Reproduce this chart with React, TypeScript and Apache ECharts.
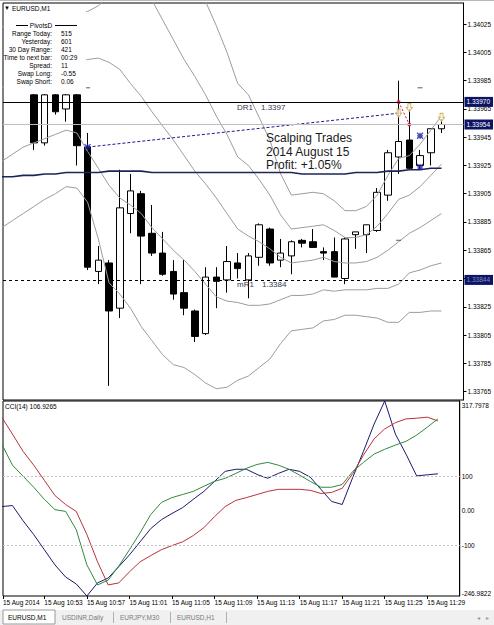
import React, { useEffect, useRef } from "react";
import * as echarts from "echarts";

const FONT = "'Liberation Sans', Arial, sans-serif";
const X_MIN = -2.887;
const X_MAX = 40.05;
const FIRST_IND = -3;
const P_MIN = 1.33759;
const P_MAX = 1.3404;
const CCI_MAX = 317.7978;
const CCI_MIN = -246.9822;

// candles from 10:52 (index 0) to 11:30: [open, close, low, high]
const candles = [
  [1.33975, 1.33941, 1.33936, 1.33978],
  [1.33941, 1.33975, 1.33939, 1.33978],
  [1.33975, 1.33963, 1.33961, 1.33978],
  [1.33965, 1.33975, 1.33956, 1.33978],
  [1.33975, 1.33939, 1.33925, 1.33978],
  [1.33938, 1.33853, 1.33851, 1.33948],
  [1.3385, 1.33858, 1.33841, 1.33868],
  [1.33856, 1.33822, 1.33769, 1.33858],
  [1.33824, 1.33895, 1.33817, 1.33922],
  [1.33891, 1.33907, 1.33877, 1.33919],
  [1.33905, 1.33875, 1.33841, 1.33907],
  [1.33877, 1.33863, 1.33861, 1.33897],
  [1.33863, 1.33848, 1.33847, 1.33878],
  [1.3385, 1.33834, 1.3383, 1.33858],
  [1.33835, 1.33824, 1.33819, 1.33858],
  [1.33822, 1.33804, 1.338, 1.33823],
  [1.33806, 1.33846, 1.33805, 1.33853],
  [1.33846, 1.33843, 1.33824, 1.33853],
  [1.33844, 1.33857, 1.33835, 1.33868],
  [1.33856, 1.33852, 1.33845, 1.33863],
  [1.33844, 1.33861, 1.33831, 1.33863],
  [1.3386, 1.33883, 1.33854, 1.33884],
  [1.3388, 1.33856, 1.33854, 1.33881],
  [1.33858, 1.33863, 1.33853, 1.33873],
  [1.33861, 1.33871, 1.33848, 1.33872],
  [1.33872, 1.3387, 1.33867, 1.33873],
  [1.33871, 1.33867, 1.33867, 1.3388],
  [1.33864, 1.33863, 1.33858, 1.33867],
  [1.33864, 1.33846, 1.33846, 1.33874],
  [1.33845, 1.33873, 1.33841, 1.33874],
  [1.33876, 1.33878, 1.33866, 1.33878],
  [1.33876, 1.33883, 1.33863, 1.33883],
  [1.33879, 1.33906, 1.33878, 1.33909],
  [1.33904, 1.33934, 1.339, 1.33936],
  [1.33931, 1.33942, 1.33919, 1.33985],
  [1.33943, 1.33923, 1.33922, 1.33965],
  [1.33925, 1.33932, 1.33922, 1.33936],
  [1.33934, 1.33951, 1.33925, 1.33951],
  [1.33951, 1.33954, 1.33948, 1.33958],
];

// band lines (outer upper, inner upper, middle, inner lower, outer lower), index -3 (10:49) .. 38 (11:30)
const bandU2 = [1.3407, 1.34074, 1.34077, 1.34077, 1.34077, 1.34077, 1.34077, 1.34079, 1.34081, 1.34088, 1.34099, 1.34106, 1.34109, 1.34106, 1.34099, 1.34088, 1.34077, 1.34067, 1.34055, 1.34041, 1.34024, 1.34005, 1.33983, 1.33975, 1.33959, 1.33943, 1.33919, 1.33904, 1.33905, 1.33906, 1.33905, 1.339, 1.33893, 1.33893, 1.33896, 1.33904, 1.33918, 1.3393, 1.33932, 1.3394, 1.3395, 1.3396];
const bandU1 = [1.34023, 1.34025, 1.34028, 1.34032, 1.34032, 1.34033, 1.34033, 1.34033, 1.34034, 1.34038, 1.34045, 1.34051, 1.34053, 1.34051, 1.34042, 1.34028, 1.34014, 1.34, 1.33988, 1.33975, 1.3396, 1.33947, 1.33931, 1.33925, 1.33915, 1.33904, 1.3389, 1.3388, 1.33881, 1.33882, 1.33883, 1.33879, 1.33874, 1.33874, 1.33876, 1.33882, 1.33891, 1.33901, 1.33904, 1.3391, 1.33918, 1.33926];
const bandMid = [1.3398, 1.33983, 1.33986, 1.33988, 1.33991, 1.33994, 1.33997, 1.33998, 1.34, 1.34001, 1.33998, 1.33993, 1.33983, 1.33974, 1.33963, 1.33953, 1.33943, 1.33932, 1.33921, 1.33912, 1.33902, 1.33891, 1.3388, 1.33875, 1.33871, 1.33866, 1.3386, 1.33856, 1.33857, 1.33858, 1.3386, 1.33857, 1.33856, 1.33856, 1.33857, 1.3386, 1.33865, 1.33871, 1.33877, 1.33881, 1.33886, 1.33891];
const bandL1 = [1.33928, 1.33933, 1.33938, 1.33941, 1.33944, 1.33947, 1.3395, 1.33948, 1.33935, 1.33923, 1.33911, 1.33902, 1.33897, 1.33891, 1.33881, 1.33873, 1.33865, 1.33858, 1.3385, 1.33841, 1.33832, 1.33829, 1.33828, 1.33826, 1.33826, 1.33827, 1.3383, 1.33833, 1.33833, 1.33834, 1.33837, 1.33836, 1.33837, 1.33837, 1.33837, 1.33838, 1.33838, 1.33841, 1.33849, 1.33851, 1.33854, 1.33856];
const bandL2 = [1.33881, 1.33886, 1.33891, 1.33896, 1.33901, 1.33905, 1.3391, 1.33909, 1.33899, 1.33873, 1.33842, 1.33834, 1.33824, 1.33811, 1.33801, 1.33791, 1.33784, 1.33782, 1.33777, 1.33771, 1.33767, 1.33768, 1.33773, 1.33776, 1.33782, 1.33788, 1.33799, 1.33808, 1.33809, 1.3381, 1.33815, 1.33816, 1.33819, 1.33819, 1.33818, 1.33817, 1.33814, 1.33814, 1.33821, 1.33821, 1.33822, 1.33822];
const maLine = [1.33917, 1.33917, 1.33918, 1.33918, 1.33919, 1.33919, 1.3392, 1.3392, 1.3392, 1.3392, 1.33921, 1.33921, 1.33921, 1.33921, 1.3392, 1.3392, 1.3392, 1.3392, 1.3392, 1.3392, 1.3392, 1.3392, 1.3392, 1.3392, 1.3392, 1.3392, 1.3392, 1.3392, 1.33919, 1.33919, 1.33919, 1.33919, 1.33919, 1.3392, 1.3392, 1.3392, 1.33921, 1.33921, 1.33922, 1.33922, 1.33923, 1.33923];

const cciNavy = [12, 15, -29, -69, -113, -157, -192, -212, -246.9822, -209, -195, -162, -128, -90, -52, -26, -8, 9, 33, 56, 85, 114, 120, 120, 105, 94, 108, 120, 114, 97, 62, 27, 18, 97, 172, 251, 317.7978, 222, 164, 101, 104, 106.9265];
const cciRed = [271, 222, 172, 132, 88, 44, 18, -2, -69, -148, -215, -209, -177, -148, -130, -113, -101, -90, -72, -49, -17, 12, 30, 38, 47, 56, 62, 62, 62, 59, 50, 53, 65, 108, 161, 208, 237, 255, 266, 268, 271, 260];
const cciGreen = [193, 132, 100, 68, 33, 3, -2, -55, -157, -215, -201, -160, -113, -64, -11, 24, 38, 47, 56, 71, 85, 94, 108, 123, 134, 140, 132, 120, 103, 85, 68, 68, 76, 114, 140, 164, 178, 190, 201, 219, 242, 266];

const priceTicks = [1.34025, 1.34005, 1.33985, 1.33965, 1.33945, 1.33925, 1.33905, 1.33885, 1.33865, 1.33845, 1.33825, 1.33805, 1.33785, 1.33765];
const cciTicks = [100, 0, -100];
const cciTickLabels = ["100", "0.00", "-100"];
const xTickIdx = [1, 5, 9, 13, 17, 21, 25, 29, 33, 37];
const xTickLabels = ["15 Aug 10:53", "15 Aug 10:57", "15 Aug 11:01", "15 Aug 11:05", "15 Aug 11:09", "15 Aug 11:13", "15 Aug 11:17", "15 Aug 11:21", "15 Aug 11:25", "15 Aug 11:29"];
const dateLabel = "15 Aug 2014";

const dr1Level = 1.3397;
const bidLevel = 1.33954;
const mr1Level = 1.33844;
const tradeLine = [[5, 1.33938], [34, 1.33962]];
const tradeLine2 = [[34, 1.3397], [35, 1.33954]];
const crossMarks = [[5, 1.33938]];
const starMarks = [[36, 1.33946], [36, 1.33924]];
const redDots = [[34, 1.3397], [35, 1.33954]];
const tanArrows = [[34, 1.33962], [35, 1.33966], [38, 1.33959]];
const grayDashes = [[5, 1.3398], [36, 1.3398], [34, 1.33872]];

const infoLabels = ["Range Today:", "Yesterday:", "30 Day Range:", "Time to next bar:", "Spread:", "Swap Long:", "Swap Short:"];
const infoValues = ["515", "601", "421", "00:29", "11", "-0.55", "0.06"];

const toSeries = (arr: number[]) => arr.map((v, k) => [k + FIRST_IND, v]);

function txt(text: string, x: number, y: number, extra: any = {}) {
  return {
    type: "text",
    x,
    y,
    z: 100,
    silent: true,
    style: {
      text,
      fill: "#000",
      fontSize: 6.5,
      fontFamily: FONT,
      align: "left",
      verticalAlign: "middle",
      ...extra,
    },
  };
}

export default function App() {
  const ref = useRef<HTMLDivElement>(null);
  useEffect(() => {
    document.body.style.margin = "0";
    const chart = echarts.init(ref.current!, null, { renderer: "svg" });
    const axisFont = { fontSize: 6.5, fontFamily: FONT, color: "#000" };
    const lineS = (data: any, color: string, width = 1, extra: any = {}) => ({
      type: "line",
      xAxisIndex: 0,
      yAxisIndex: 0,
      data,
      showSymbol: false,
      symbol: "none",
      silent: true,
      z: 3,
      lineStyle: { color, width },
      ...extra,
    });
    const mkLabel = (text: string, color = "#fff") => ({
      show: true,
      position: "end",
      distance: 1,
      formatter: text,
      backgroundColor: "#0c1464",
      color,
      fontSize: 6.5,
      fontFamily: FONT,
      padding: [2, 3, 1, 2],
    });
    const option: any = {
      animation: false,
      backgroundColor: "#fff",
      grid: [
        { left: 3, top: 3, width: 461, height: 397, show: true, borderColor: "#000", borderWidth: 1, backgroundColor: "transparent" },
        { left: 3, top: 401, width: 461, height: 195, show: true, borderColor: "#000", borderWidth: 1, backgroundColor: "transparent" },
      ],
      xAxis: [
        { type: "value", gridIndex: 0, min: X_MIN, max: X_MAX, show: false },
        {
          type: "value",
          gridIndex: 1,
          min: X_MIN,
          max: X_MAX,
          axisLine: { show: false, onZero: false },
          splitLine: { show: false },
          axisTick: { show: true, customValues: [X_MIN, ...xTickIdx], length: 3, lineStyle: { color: "#000" } },
          axisLabel: {
            customValues: [X_MIN, ...xTickIdx],
            ...axisFont,
            align: "left",
            margin: 3,
            formatter: (v: number) => {
              if (v < 0) return dateLabel;
              const k = xTickIdx.indexOf(Math.round(v));
              return k >= 0 ? xTickLabels[k] : "";
            },
          },
        },
      ],
      yAxis: [
        {
          type: "value",
          gridIndex: 0,
          position: "right",
          min: P_MIN,
          max: P_MAX,
          splitLine: { show: false },
          axisLine: { show: true, onZero: false, lineStyle: { color: "#000" } },
          axisTick: { show: true, customValues: priceTicks, length: 3, lineStyle: { color: "#000" } },
          axisLabel: { customValues: priceTicks, ...axisFont, margin: 4, formatter: (v: number) => v.toFixed(5) },
        },
        {
          type: "value",
          gridIndex: 1,
          position: "right",
          min: CCI_MIN,
          max: CCI_MAX,
          splitLine: { show: false },
          axisLine: { show: true, onZero: false, lineStyle: { color: "#000" } },
          axisTick: { show: false },
          axisLabel: {
            customValues: [CCI_MAX, ...cciTicks, CCI_MIN],
            ...axisFont,
            margin: 2,
            formatter: (v: number) => {
              if (Math.abs(v - CCI_MAX) < 1e-6) return "{t|" + CCI_MAX.toFixed(4) + "}";
              if (Math.abs(v - CCI_MIN) < 1e-6) return "{b|" + CCI_MIN.toFixed(4) + "}";
              const k = cciTicks.indexOf(Math.round(v));
              return k >= 0 ? cciTickLabels[k] : "";
            },
            rich: {
              t: { ...axisFont, padding: [9, 0, 0, 0] },
              b: { ...axisFont, padding: [0, 0, 5, 0] },
            },
          },
        },
      ],
      series: [
        {
          type: "candlestick",
          xAxisIndex: 0,
          yAxisIndex: 0,
          z: 1,
          silent: true,
          barWidth: 7,
          data: candles.map((c, i) => [i, ...c]),
          encode: { x: 0, y: [1, 2, 3, 4] },
          itemStyle: { color: "#fff", color0: "#000", borderColor: "#000", borderColor0: "#000", borderWidth: 1 },
        },
        lineS(toSeries(bandU2), "#9c9c9c"),
        lineS(toSeries(bandU1), "#9c9c9c"),
        lineS(toSeries(bandMid), "#9c9c9c"),
        lineS(toSeries(bandL1), "#9c9c9c"),
        lineS(toSeries(bandL2), "#9c9c9c"),
        lineS(toSeries(maLine), "#1c2458", 1.6, {
          markLine: {
            silent: true,
            symbol: "none",
            precision: 6,
            data: [
              { yAxis: dr1Level, lineStyle: { color: "#000", type: "solid", width: 1 }, label: mkLabel("1.33970") },
              { yAxis: bidLevel, lineStyle: { color: "#bdbdbd", type: "solid", width: 1 }, label: mkLabel("1.33954") },
              { yAxis: mr1Level, lineStyle: { color: "#000", type: [3, 3], width: 1 }, label: mkLabel("1.33844", "#7f8fc8") },
            ],
          },
        }),
        lineS(tradeLine, "#1a1a90", 1, { lineStyle: { color: "#1a1a90", width: 1, type: [3, 2] } }),
        lineS(tradeLine2, "#d01030", 1, { lineStyle: { color: "#d01030", width: 1, type: [2, 2] } }),
        {
          type: "scatter",
          xAxisIndex: 0,
          yAxisIndex: 0,
          z: 4,
          silent: true,
          data: crossMarks,
          symbol: "path://M0,0L1,1M1,0L0,1M0.5,0L0.5,1M0,0.5L1,0.5",
          symbolSize: 6,
          itemStyle: { color: "transparent", borderColor: "#1a1aa0", borderWidth: 1.3 },
        },
        {
          type: "scatter",
          xAxisIndex: 0,
          yAxisIndex: 0,
          z: 4,
          silent: true,
          data: starMarks,
          symbol: "path://M0,0L1,1M1,0L0,1M0.5,0L0.5,1M0,0.5L1,0.5",
          symbolSize: 6,
          itemStyle: { color: "transparent", borderColor: "#1a1aa0", borderWidth: 1.3 },
        },
        {
          type: "scatter",
          xAxisIndex: 0,
          yAxisIndex: 0,
          z: 4,
          silent: true,
          data: redDots,
          symbol: "circle",
          symbolSize: 4,
          itemStyle: { color: "#e0103a" },
        },
        {
          type: "scatter",
          xAxisIndex: 0,
          yAxisIndex: 0,
          z: 4,
          silent: true,
          data: tanArrows,
          symbol: "path://M2,0L6,0L6,5L8,5L4,10L0,5L2,5Z",
          symbolSize: [6, 8],
          itemStyle: { color: "#fffbe8", borderColor: "#c8a04a", borderWidth: 1 },
        },
        {
          type: "scatter",
          xAxisIndex: 0,
          yAxisIndex: 0,
          z: 4,
          silent: true,
          data: grayDashes,
          symbol: "rect",
          symbolSize: [5, 1.2],
          itemStyle: { color: "#555" },
        },
        {
          type: "line",
          xAxisIndex: 1,
          yAxisIndex: 1,
          data: toSeries(cciNavy),
          showSymbol: false,
          symbol: "none",
          silent: true,
          z: 3,
          lineStyle: { color: "#1a1a6e", width: 1 },
          markLine: {
            silent: true,
            symbol: "none",
            precision: 4,
            label: { show: false },
            lineStyle: { color: "#c4c4c4", type: [2, 2], width: 1 },
            data: [{ yAxis: 100 }, { yAxis: -100 }],
          },
        },
        {
          type: "line",
          xAxisIndex: 1,
          yAxisIndex: 1,
          data: toSeries(cciRed),
          showSymbol: false,
          symbol: "none",
          silent: true,
          z: 3,
          lineStyle: { color: "#b8323a", width: 1 },
        },
        {
          type: "line",
          xAxisIndex: 1,
          yAxisIndex: 1,
          data: toSeries(cciGreen),
          showSymbol: false,
          symbol: "none",
          silent: true,
          z: 3,
          lineStyle: { color: "#2f8a3a", width: 1 },
        },
      ],
      graphic: [
        { type: "rect", z: 90, silent: true, shape: { x: 4, y: 4, width: 82, height: 90 }, style: { fill: "#fff" } },
        { type: "line", z: 95, silent: true, shape: { x1: 0, y1: 0.5, x2: 494, y2: 0.5 }, style: { stroke: "#b8b8b8", lineWidth: 1 } },
        txt("\u25BC", 4, 8, { fontSize: 6 }),
        txt("EURUSD,M1", 12, 8),
        { type: "line", z: 100, silent: true, shape: { x1: 16, y1: 25.5, x2: 28, y2: 25.5 }, style: { stroke: "#000", lineWidth: 1 } },
        { type: "line", z: 100, silent: true, shape: { x1: 55, y1: 25.5, x2: 77, y2: 25.5 }, style: { stroke: "#000", lineWidth: 1 } },
        txt("PivotsD", 41, 25, { align: "center" }),
        ...infoLabels.map((l, k) => txt(l, 52, 33.3 + k * 8.05, { align: "right" })),
        ...infoValues.map((v, k) => txt(v, 61, 33.3 + k * 8.05)),
        txt("Scalping Trades", 266, 138, { fontSize: 12, fill: "#1a1a1a" }),
        txt("2014 August 15", 266, 151.5, { fontSize: 12, fill: "#1a1a1a" }),
        txt("Profit: +1.05%", 266, 165, { fontSize: 12, fill: "#1a1a1a" }),
        txt("DR1", 237, 107, { fontSize: 8, fill: "#383850" }),
        txt("1.3397", 261, 107, { fontSize: 8, fill: "#383850" }),
        txt("mR1", 237, 284, { fontSize: 8, fill: "#383850" }),
        txt("1.3384", 262, 284, { fontSize: 8, fill: "#383850" }),
        txt("CCI(14) 106.9265", 5, 406.5),
        { type: "rect", z: 90, silent: true, shape: { x: 0, y: 610, width: 494, height: 15 }, style: { fill: "#f0f0f0" } },
        { type: "rect", z: 95, silent: true, shape: { x: 3, y: 610, width: 52, height: 14 }, style: { fill: "#fff", stroke: "#9a9a9a", lineWidth: 1 } },
        txt("EURUSD,M1", 8, 617.5),
        txt("USDINR,Daily", 62, 617.5, { fill: "#7a7a7a" }),
        txt("EURJPY,M30", 120, 617.5, { fill: "#7a7a7a" }),
        txt("EURUSD,H1", 177, 617.5, { fill: "#7a7a7a" }),
        ...[113, 170, 226].map((x) => ({ type: "line", z: 100, silent: true, shape: { x1: x + 0.5, y1: 612, x2: x + 0.5, y2: 623 }, style: { stroke: "#b0b0b0", lineWidth: 1 } })),
        txt("\u25C2", 477, 617.5, { fill: "#999", fontSize: 6 }),
        txt("\u25B8", 486, 617.5, { fill: "#999", fontSize: 6 }),
      ],
    };
    chart.setOption(option);
    return () => chart.dispose();
  }, []);
  return <div ref={ref} style={{ width: 494, height: 625, background: "#fff" }} />;
}
